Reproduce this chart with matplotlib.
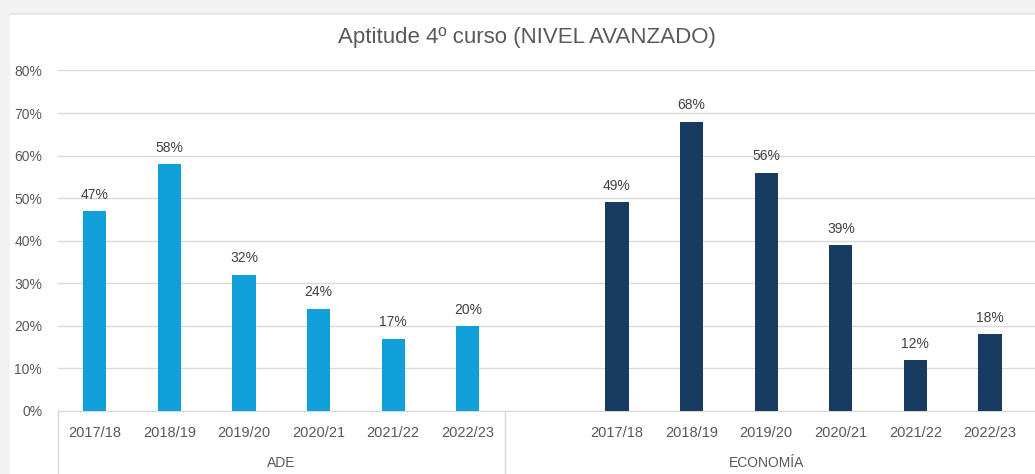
import matplotlib.pyplot as plt
from matplotlib.patches import Rectangle
import matplotlib.transforms as mtransforms

plt.rcParams['font.family'] = ['Liberation Sans', 'DejaVu Sans']

# data
years = ['2017/18', '2018/19', '2019/20', '2020/21', '2021/22', '2022/23']
ade = [47, 58, 32, 24, 17, 20]
economia = [49, 68, 56, 39, 12, 18]
groups = ['ADE', 'ECONOMÍA']
yticks = [0, 10, 20, 30, 40, 50, 60, 70, 80]

c_ade = '#109fd8'
c_eco = '#173b61'
txt = '#595959'
grid = '#d9d9d9'

W, H = 1035, 474
fig = plt.figure(figsize=(W / 100, H / 100), dpi=100)
fig.patch.set_facecolor('#f2f2f2')
# white chart panel (screenshot has grey edge top/left)
fig.patches.append(Rectangle((10 / W, 0), 1, (H - 14) / H, transform=fig.transFigure,
                             facecolor='white', edgecolor='none', zorder=-5))
fig.add_artist(plt.Line2D([10 / W, 1], [(H - 13.5) / H] * 2, color='#e4e4e4', lw=1.2, zorder=-4))

slot = 74.6
x0 = 57.5
ax = fig.add_axes([x0 / W, (H - 411) / H, 1 - x0 / W, (411 - 70.5) / H])
ax.set_facecolor('none')

pos_ade = list(range(6))
pos_eco = [7 + i for i in range(6)]

b1 = ax.bar(pos_ade, ade, width=0.31, color=c_ade, zorder=3)
b2 = ax.bar(pos_eco, economia, width=0.31, color=c_eco, zorder=3)
for bars, vals in [(b1, ade), (b2, economia)]:
    for b, v in zip(bars, vals):
        ax.text(b.get_x() + b.get_width() / 2, v + 2.2, f'{v}%', ha='center', va='bottom',
                fontsize=10, color='#404040')

ax.set_ylim(0, 80)
ax.set_xlim(-0.5, -0.5 + (W - x0) / slot)
ax.set_yticks(yticks)
ax.set_yticklabels([f'{t}%' for t in yticks], fontsize=10, color=txt)
ax.yaxis.grid(True, color=grid, lw=1)
ax.set_axisbelow(True)
ax.tick_params(axis='y', length=0, pad=11)

ax.set_xticks(pos_ade + pos_eco)
ax.set_xticklabels(years + years, fontsize=10.5, color=txt)
ax.tick_params(axis='x', length=0, pad=11)

for s in ['top', 'right', 'left']:
    ax.spines[s].set_visible(False)
ax.spines['bottom'].set_color(grid)

# category box lines and group labels below axis
trans = mtransforms.blended_transform_factory(ax.transData, ax.transAxes)
for xb in [-0.5, 5.5]:
    ax.plot([xb, xb], [0, -0.2], transform=trans, color=grid, lw=1, clip_on=False)
ax.text(2.5, -0.153, groups[0], transform=trans, ha='center', va='center', fontsize=10, color=txt)
ax.text(9.0, -0.153, groups[1], transform=trans, ha='center', va='center', fontsize=10, color=txt)

fig.text(527 / W, (H - 37) / H, 'Aptitude 4º curso (NIVEL AVANZADO)', ha='center', va='center',
         fontsize=16, color=txt)

fig.savefig('out.png', dpi=100)
